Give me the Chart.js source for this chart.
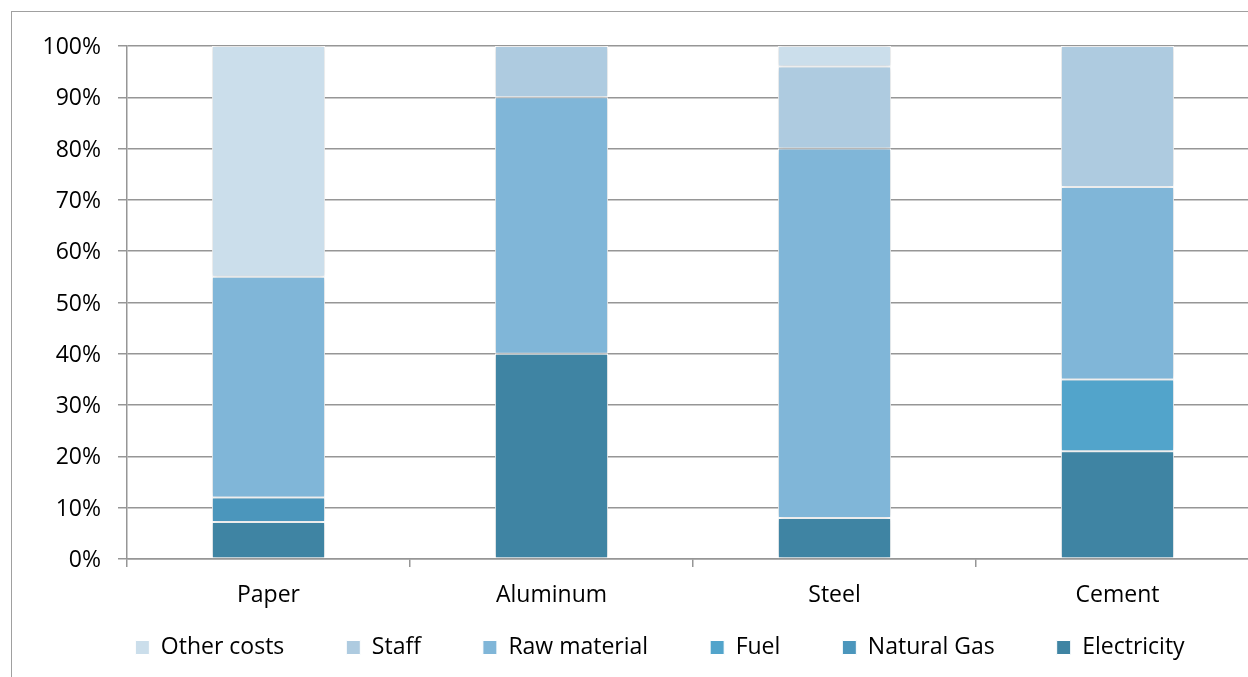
<!DOCTYPE html>
<html>
<head>
<meta charset="utf-8">
<script src="https://cdn.jsdelivr.net/npm/chart.js@4"></script>
<style>
  html, body { margin: 0; padding: 0; background: #fff; overflow: hidden; width: 1248px; height: 677px; }
  #frame { position: absolute; left: 11px; top: 11px; width: 1400px; height: 800px; border: 1px solid #a0a0a0; }
  #c { position: absolute; left: 0; top: 0; }
</style>
</head>
<body>
<div id="frame"></div>
<canvas id="c" width="1320" height="677"></canvas>
<script>
const categories = ['Paper', 'Aluminum', 'Steel', 'Cement'];
const electricity = [7.2, 40, 8, 21];
const naturalGas  = [4.8, 0, 0, 0];
const fuel        = [0, 0, 0, 14];
const rawMaterial = [43, 50, 72, 37.5];
const staff       = [0, 10, 16, 27.5];
const otherCosts  = [45, 0, 4, 0];
const yTickLabels = ['0%','10%','20%','30%','40%','50%','60%','70%','80%','90%','100%'];

Chart.defaults.font.family = "'Open Sans', sans-serif";
Chart.defaults.font.size = 23;
Chart.defaults.color = '#000';

const gridColor = '#969696';

const barShadow = {
  id: 'barShadow',
  beforeDatasetsDraw(chart) {
    const c = chart.ctx; c.save();
    c.shadowColor = 'rgba(0,0,0,0.22)'; c.shadowBlur = 5;
  },
  afterDatasetsDraw(chart) { chart.ctx.restore(); }
};

// legend row sits closer to the axis labels than its (wide) item padding allows
const legendLift = {
  id: 'legendLift',
  afterLayout(chart) {
    chart.legend.top -= 37;
  }
};

function ds(label, data, color) {
  return { label, data, backgroundColor: color, borderColor: '#ffffff', borderWidth: 1, borderSkipped: false,
           barPercentage: 0.4, categoryPercentage: 1.0 };
}

new Chart(document.getElementById('c'), {
  type: 'bar',
  data: {
    labels: categories,
    datasets: [
      ds('Electricity', electricity, '#3f84a3'),
      ds('Natural Gas', naturalGas, '#4b96bc'),
      ds('Fuel', fuel, '#52a4cb'),
      ds('Raw material', rawMaterial, '#80b6d8'),
      ds('Staff', staff, '#aecbe0'),
      ds('Other costs', otherCosts, '#cbdeeb')
    ]
  },
  options: {
    responsive: false,
    devicePixelRatio: 1,
    animation: false,
    layout: { padding: { top: 46, bottom: 0, left: 0, right: 0 } },
    plugins: {
      tooltip: { enabled: false },
      legend: {
        position: 'bottom',
        reverse: true,
        maxHeight: 66,
        labels: { boxWidth: 14, boxHeight: 14, padding: 62, color: '#000', font: { size: 23 } }
      }
    },
    scales: {
      x: {
        stacked: true,
        grid: { display: true, drawOnChartArea: false, drawTicks: true, tickLength: 8, color: gridColor, lineWidth: 1.5, offset: true },
        border: { display: true, color: gridColor, width: 1.5 },
        ticks: { padding: 15, color: '#000', font: { size: 23 } },
        afterFit(s) { s.height = 52; }
      },
      y: {
        stacked: true,
        min: 0, max: 100,
        grid: { color: gridColor, lineWidth: 1.5, drawTicks: true, tickLength: 9 },
        border: { display: true, color: gridColor, width: 1.5 },
        ticks: { stepSize: 10, padding: 17, labelOffset: 1.5, color: '#000', font: { size: 23 },
                 callback: (v, i) => yTickLabels[i] },
        afterFit(s) { s.width = 127; }
      },
      yR: {
        type: 'linear', position: 'right', display: true,
        grid: { display: false, drawTicks: false }, border: { display: false },
        ticks: { display: false },
        afterFit(s) { s.width = 61; }
      }
    }
  },
  plugins: [barShadow, legendLift]
});
</script>
</body>
</html>
